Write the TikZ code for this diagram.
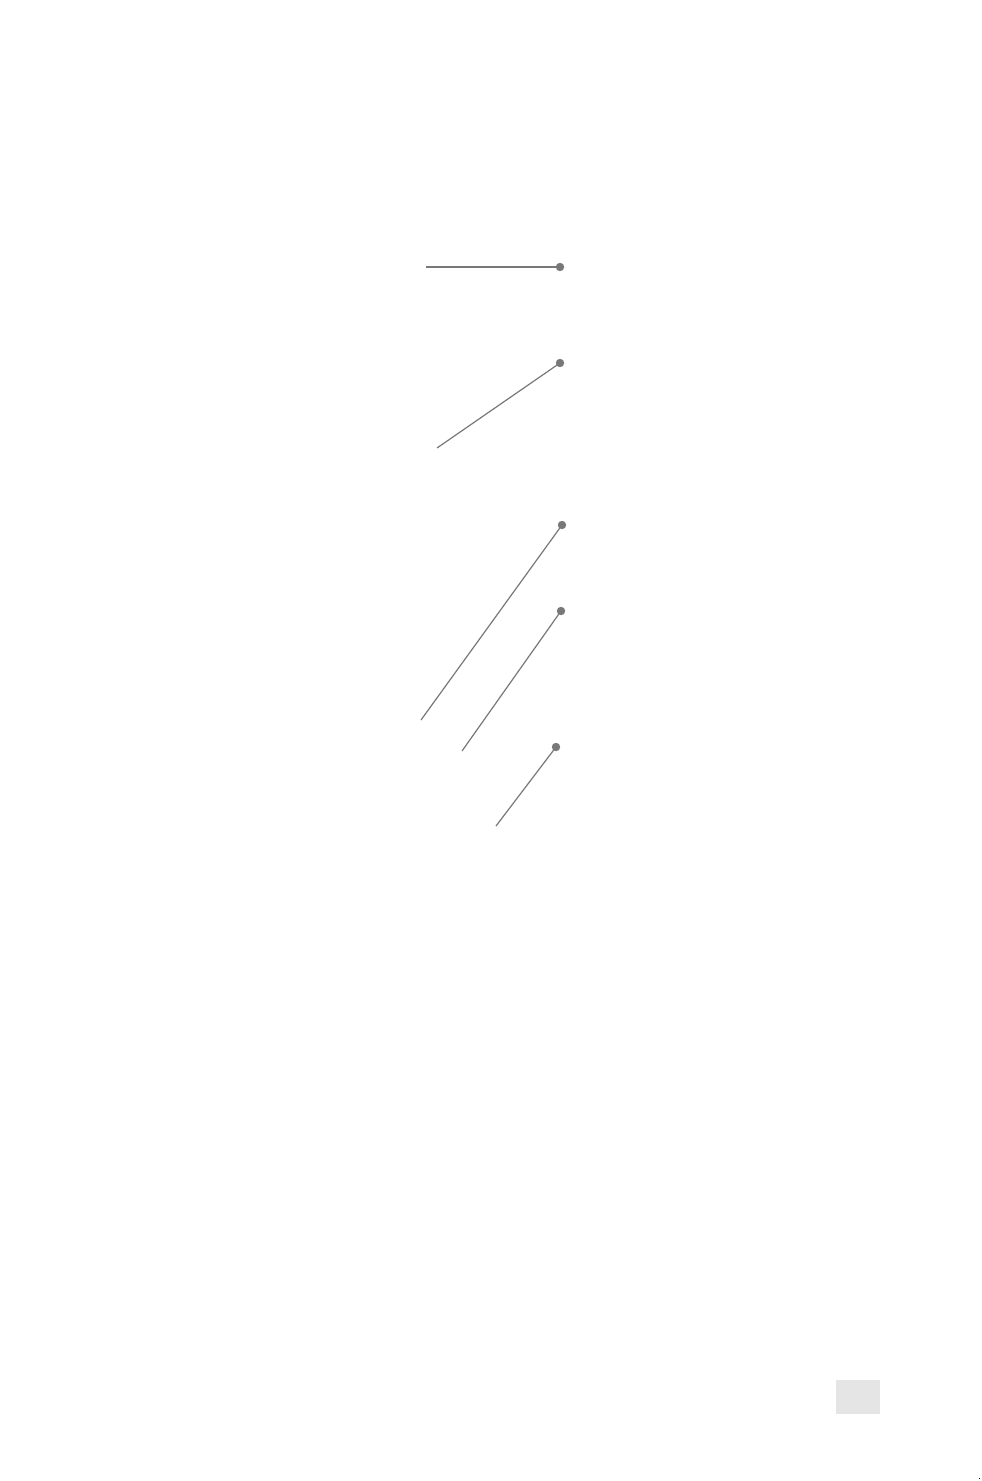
\documentclass[tikz,border=0pt]{standalone}
\begin{document}
\begin{tikzpicture}[x=0.5pt,y=-0.5pt,
  leader/.style={draw=black!53, line width=0.6pt},
  leaderthick/.style={draw=black!53, line width=1pt},
  pin/.style={circle, fill=black!53, inner sep=0pt, minimum size=4.2pt}]
\useasboundingbox[fill=white] (0,0) rectangle (981,1481);
% dots
\node[pin] (d1) at (560,267) {};
\node[pin] (d2) at (560,363) {};
\node[pin] (d3) at (562,525) {};
\node[pin] (d4) at (561,611) {};
\node[pin] (d5) at (556,747) {};
% free ends
\coordinate (e1) at (426,267);
\coordinate (e2) at (437,448);
\coordinate (e3) at (421,720);
\coordinate (e4) at (462,751);
\coordinate (e5) at (496,826);
\draw[leaderthick] (e1) -- (d1.center);
\draw[leader] (e2) -- (d2.center);
\draw[leader] (e3) -- (d3.center);
\draw[leader] (e4) -- (d4.center);
\draw[leader] (e5) -- (d5.center);
% grey box
\fill[black!10] (836,1380) rectangle (880,1414);
\fill[black] (978.5,1477.5) rectangle (980,1479);
\end{tikzpicture}
\end{document}
